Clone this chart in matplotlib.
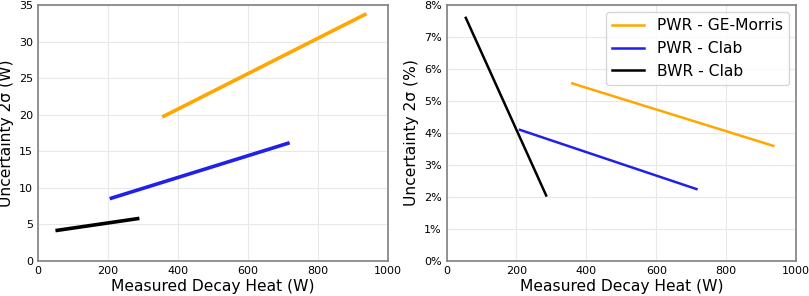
import matplotlib.pyplot as plt
from matplotlib.ticker import PercentFormatter

# measured decay heat (W), endpoints of each fit
pwr_ge_x = [360, 935]
pwr_clab_x = [210, 715]
bwr_clab_x = [55, 285]

# absolute uncertainty 2 sigma (W)
pwr_ge_abs = [19.8, 33.7]
pwr_clab_abs = [8.6, 16.1]
bwr_clab_abs = [4.2, 5.8]

# relative uncertainty 2 sigma (fraction)
pwr_ge_rel = [0.0555, 0.036]
pwr_clab_rel = [0.041, 0.0225]
bwr_clab_rel = [0.076, 0.0205]

labels = ['PWR - GE-Morris', 'PWR - Clab', 'BWR - Clab']
colors = ['#FFA600', '#2020E8', 'black']

fig, (ax1, ax2) = plt.subplots(1, 2, figsize=(8.09, 2.96), dpi=100)

for x, y, c, l in zip([pwr_ge_x, pwr_clab_x, bwr_clab_x],
                      [pwr_ge_abs, pwr_clab_abs, bwr_clab_abs], colors, labels):
    ax1.plot(x, y, color=c, lw=2.6, label=l)

for x, y, c, l in zip([pwr_ge_x, pwr_clab_x, bwr_clab_x],
                      [pwr_ge_rel, pwr_clab_rel, bwr_clab_rel], colors, labels):
    ax2.plot(x, y, color=c, lw=1.8, label=l)

ax1.set_ylim(0, 35)
ax1.set_ylabel('Uncertainty 2σ (W)', fontsize=11.2)
ax1.yaxis.set_label_coords(-0.069, 0.5)
ax2.set_ylim(0, 0.08)
ax2.yaxis.set_major_formatter(PercentFormatter(1.0, decimals=0))
ax2.set_ylabel('Uncertainty 2σ (%)', fontsize=11.2)
ax2.yaxis.set_label_coords(-0.08, 0.5)
ax2.legend(fontsize=11.2, loc='upper right', handlelength=2.1,
           borderaxespad=0.45)

for ax in (ax1, ax2):
    ax.set_xlim(0, 1000)
    ax.set_xlabel('Measured Decay Heat (W)', fontsize=11.2, labelpad=2)
    ax.grid(True, color='#e8e8e8', lw=0.8)
    ax.tick_params(length=0, labelsize=8, pad=3.5)
    for s in ax.spines.values():
        s.set_color('#808080')
        s.set_linewidth(1.2)

plt.subplots_adjust(left=0.047, right=0.984, top=0.983, bottom=0.118, wspace=0.169)
plt.savefig('out.png')
